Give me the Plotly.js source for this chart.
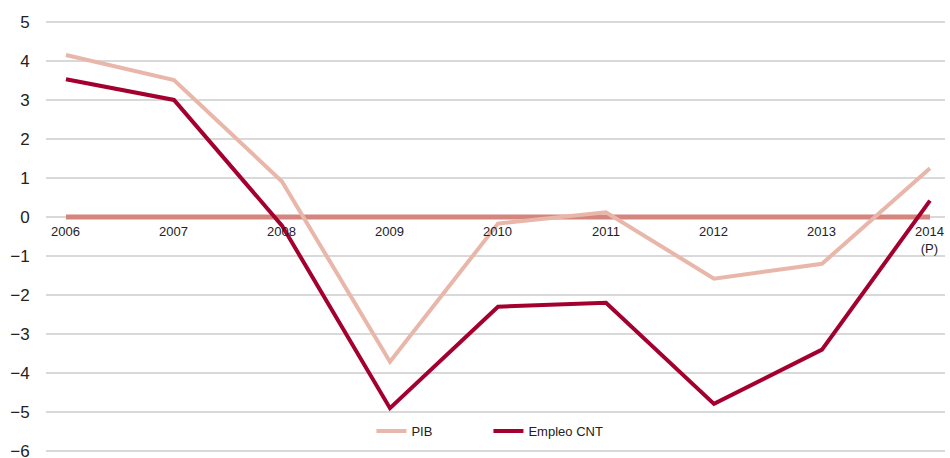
<!DOCTYPE html>
<html>
<head>
<meta charset="utf-8">
<script src="https://cdn.plot.ly/plotly-3.0.1.min.js"></script>
<style>html,body{margin:0;padding:0;background:#fff;}#chart{width:950px;height:458px;}</style>
</head>
<body>
<div id="chart"></div>
<script>
const years = [2006, 2007, 2008, 2009, 2010, 2011, 2012, 2013, 2014];
const yearLabels = ['2006', '2007', '2008', '2009', '2010', '2011', '2012', '2013', '2014<br>(P)'];
const pib = [4.15, 3.51, 0.91, -3.71, -0.17, 0.12, -1.58, -1.20, 1.25];
const empleo = [3.53, 3.00, -0.22, -4.90, -2.30, -2.20, -4.79, -3.40, 0.42];
const zeroLine = [0, 0, 0, 0, 0, 0, 0, 0, 0];

const traces = [
  {x: years, y: zeroLine, mode: 'lines', line: {color: '#d4857d', width: 5}, showlegend: false, hoverinfo: 'skip'},
  {x: years, y: pib, name: 'PIB', mode: 'lines', line: {color: '#e9b6aa', width: 4}},
  {x: years, y: empleo, name: 'Empleo CNT', mode: 'lines', line: {color: '#a3002f', width: 4}}
];

const annotations = years.map((yr, i) => ({
  x: yr, y: 0, xref: 'x', yref: 'y', text: yearLabels[i], showarrow: false,
  yanchor: 'top', yshift: -5, font: {family: 'Liberation Sans, Arial, sans-serif', size: 13, color: '#222'}
}));

const layout = {
  width: 950, height: 458,
  margin: {l: 46, r: 5, t: 18, b: 3},
  paper_bgcolor: '#fff', plot_bgcolor: '#fff',
  font: {family: 'Liberation Sans, Arial, sans-serif', color: '#222'},
  xaxis: {range: [2005.815, 2014.139], showgrid: false, zeroline: false, showticklabels: false, ticks: '', showline: false},
  yaxis: {range: [-6.1, 5.1], tickmode: 'linear', dtick: 1, tick0: 0, showgrid: true, gridcolor: '#d9d9d9', gridwidth: 1.5, zeroline: false,
          ticks: 'outside', ticklen: 12, tickcolor: 'rgba(0,0,0,0)', tickfont: {size: 17, color: '#222'}, showline: false,
          ticklabeloverflow: 'allow', automargin: false},
  showlegend: true,
  legend: {orientation: 'h', x: 0.362, xanchor: 'left', y: 0.055, yanchor: 'middle', bgcolor: '#fff',
           font: {size: 13, color: '#222'}, entrywidth: 72, entrywidthmode: 'pixels'},
  annotations: annotations
};

Plotly.newPlot('chart', traces, layout, {displayModeBar: false, staticPlot: true});
</script>
</body>
</html>
